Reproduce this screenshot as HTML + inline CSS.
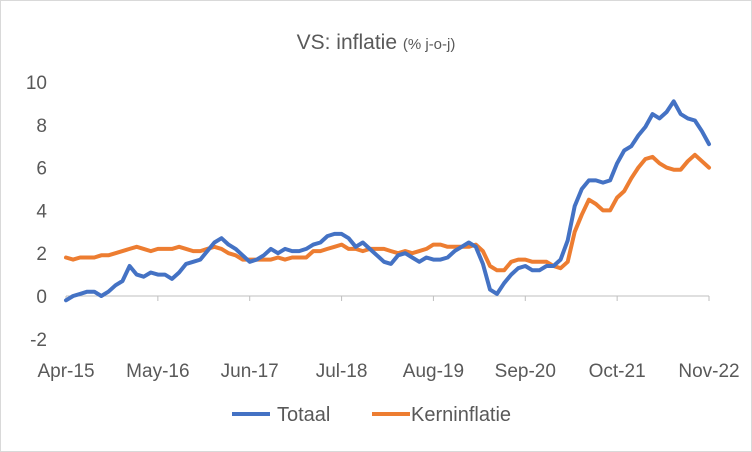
<!DOCTYPE html>
<html><head><meta charset="utf-8"><style>
body{margin:0;background:#fff}
svg{display:block;font-family:"Liberation Sans",Arial,sans-serif}
</style></head><body>
<svg id="chart" width="752" height="452" viewBox="0 0 752 452">
<rect x="0.5" y="0.5" width="751" height="451" fill="#fff" stroke="#d9d9d9"/>
<text x="376" y="49" text-anchor="middle" fill="#595959"><tspan font-size="21">VS: inflatie </tspan><tspan font-size="15">(% j-o-j)</tspan></text>
<g id="yaxis"></g>
<g id="xaxis"></g>
<g id="series"></g>
<g>
<g><line x1="232" y1="414" x2="270" y2="414" stroke="#4472c4" stroke-width="4"/><text x="277" y="421" font-size="20" fill="#595959">Totaal</text></g>
<g><line x1="372" y1="414" x2="410" y2="414" stroke="#ed7d31" stroke-width="4"/><text x="411" y="421" font-size="20" fill="#595959">Kerninflatie</text></g>
</g>
</svg>
<script>
const xLabels=["Apr-15","May-16","Jun-17","Jul-18","Aug-19","Sep-20","Oct-21","Nov-22"];
const yTicks=[-2,0,2,4,6,8,10];
const totaal=[-0.2,0.0,0.1,0.2,0.2,0.0,0.2,0.5,0.7,1.4,1.0,0.9,1.1,1.0,1.0,0.8,1.1,1.5,1.6,1.7,2.1,2.5,2.7,2.4,2.2,1.9,1.6,1.7,1.9,2.2,2.0,2.2,2.1,2.1,2.2,2.4,2.5,2.8,2.9,2.9,2.7,2.3,2.5,2.2,1.9,1.6,1.5,1.9,2.0,1.8,1.6,1.8,1.7,1.7,1.8,2.1,2.3,2.5,2.3,1.5,0.3,0.1,0.6,1.0,1.3,1.4,1.2,1.2,1.4,1.4,1.7,2.6,4.2,5.0,5.4,5.4,5.3,5.4,6.2,6.8,7.0,7.5,7.9,8.5,8.3,8.6,9.1,8.5,8.3,8.2,7.7,7.1];
const kern=[1.8,1.7,1.8,1.8,1.8,1.9,1.9,2.0,2.1,2.2,2.3,2.2,2.1,2.2,2.2,2.2,2.3,2.2,2.1,2.1,2.2,2.3,2.2,2.0,1.9,1.7,1.7,1.7,1.7,1.7,1.8,1.7,1.8,1.8,1.8,2.1,2.1,2.2,2.3,2.4,2.2,2.2,2.1,2.2,2.2,2.2,2.1,2.0,2.1,2.0,2.1,2.2,2.4,2.4,2.3,2.3,2.3,2.3,2.4,2.1,1.4,1.2,1.2,1.6,1.7,1.7,1.6,1.6,1.6,1.4,1.3,1.6,3.0,3.8,4.5,4.3,4.0,4.0,4.6,4.9,5.5,6.0,6.4,6.5,6.2,6.0,5.9,5.9,6.3,6.6,6.3,6.0];
const NS="http://www.w3.org/2000/svg";
const x0=66,x1=709,nMonths=totaal.length-1;
const xs=i=>x0+(x1-x0)*i/nMonths;
const ys=v=>296-v*(214/10);
function mk(tag,attrs,parent){const e=document.createElementNS(NS,tag);for(const k in attrs)e.setAttribute(k,attrs[k]);parent.appendChild(e);return e;}
const ya=document.getElementById('yaxis'),xa=document.getElementById('xaxis'),sg=document.getElementById('series');
yTicks.forEach(v=>{const t=mk('text',{x:47,y:ys(v)+7,'text-anchor':'end','font-size':19,fill:'#595959'},ya);t.textContent=v;

});
const al=mk('line',{x1:x0,y1:ys(0),x2:x1,y2:ys(0),stroke:'#bfbfbf','stroke-width':1},xa);


xLabels.forEach((l,i)=>{const x=xs(i*13);
const tk=mk('line',{x1:x,y1:ys(0),x2:x,y2:ys(0)+5,stroke:'#bfbfbf'},xa);


const t=mk('text',{x:x,y:377,'text-anchor':'middle','font-size':19,fill:'#595959'},xa);t.textContent=l;

});
function line(data,color,name){const p=mk('polyline',{points:data.map((v,i)=>xs(i).toFixed(1)+','+ys(v).toFixed(1)).join(' '),fill:'none',stroke:color,'stroke-width':4,'stroke-linejoin':'round','stroke-linecap':'round'},sg);

}
line(kern,'#ed7d31','kerninflatie-line');
line(totaal,'#4472c4','totaal-line');
</script>
</body></html>
